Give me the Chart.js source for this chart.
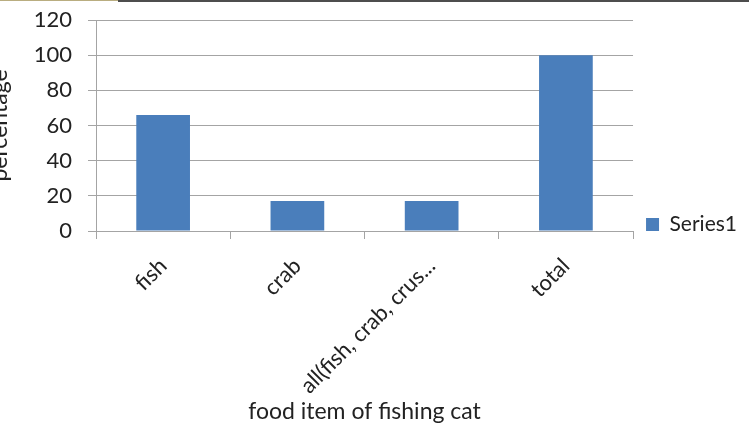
<!DOCTYPE html>
<html>
<head>
<meta charset="utf-8">
<title>food item of fishing cat</title>
<script src="https://cdn.jsdelivr.net/npm/chart.js"></script>
<style>
    html, body { margin: 0; padding: 0; background: #fff; overflow: hidden; }
    #frame { position: relative; width: 749px; height: 429px; overflow: hidden; }
    /* canvas is a bit wider than the frame so the y title runs off the left edge */
    #chart-container { position: absolute; left: -14px; top: 0; width: 763px; height: 429px; }
    .edge-a { position: absolute; left: 0; top: 0; width: 118px; height: 1px; background: #b9ad80; z-index: 2; }
    .edge-b { position: absolute; left: 118px; right: 0; top: 0; height: 2px; background: #4d4d4d; z-index: 2; }
</style>
</head>
<body>
<div id="frame">
    <div class="edge-a"></div>
    <div class="edge-b"></div>
    <div id="chart-container">
        <canvas id="foodChart"></canvas>
    </div>
</div>

<script>
    const categories = ['fish', 'crab', 'all(fish, crab, crus...', 'total'];
    const series1 = [66, 17, 17, 100];
    const yMin = 0;
    const yMax = 120;
    const yStep = 20;

    const gridColor = '#a4a4a4';
    const textColor = '#222222';
    const fontFamily = 'Lato, "Open Sans", sans-serif';

    const ctx = document.getElementById('foodChart').getContext('2d');

    new Chart(ctx, {
        type: 'bar',
        data: {
            labels: categories,
            datasets: [{
                label: 'Series1',
                data: series1,
                backgroundColor: '#4a7ebb',
                borderWidth: 0,
                barPercentage: 0.4,
                categoryPercentage: 1
            }]
        },
        options: {
            responsive: true,
            maintainAspectRatio: false,
            animation: false,
            layout: {
                padding: { top: 20, right: 2, bottom: 0, left: 0 }
            },
            plugins: {
                tooltip: { enabled: false },
                legend: {
                    position: 'right',
                    align: 'center',
                    labels: {
                        boxWidth: 13,
                        boxHeight: 13,
                        padding: 13,
                        color: textColor,
                        font: { family: fontFamily, size: 21 }
                    }
                }
            },
            scales: {
                x: {
                    offset: true,
                    grid: {
                        display: true,
                        drawOnChartArea: false,
                        offset: true,
                        tickLength: 8,
                        color: gridColor
                    },
                    border: { color: gridColor },
                    ticks: {
                        autoSkip: false,
                        minRotation: 45,
                        maxRotation: 45,
                        padding: 14,
                        labelOffset: 0,
                        color: textColor,
                        font: { family: fontFamily, size: 22 }
                    },
                    title: {
                        display: true,
                        text: 'food item of fishing cat',
                        color: textColor,
                        font: { family: fontFamily, size: 23 },
                        padding: { top: 0, bottom: 4 }
                    },
                    afterFit: function (scale) {
                        scale.height = 198;
                        scale.paddingLeft = 0;
                        scale.paddingRight = 0;
                    }
                },
                y: {
                    min: yMin,
                    max: yMax,
                    grid: { color: gridColor, tickLength: 8 },
                    border: { color: gridColor },
                    ticks: {
                        stepSize: yStep,
                        padding: 16,
                        color: textColor,
                        font: { family: fontFamily, size: 22 }
                    },
                    title: {
                        display: true,
                        text: 'percentage',
                        color: textColor,
                        font: { family: fontFamily, size: 23 },
                        padding: 0
                    },
                    afterFit: function (scale) {
                        // keep the tick padding from pushing the plot down
                        scale.width = 110;
                        scale.paddingTop = 0;
                        scale.paddingBottom = 0;
                    }
                }
            }
        }
    });
</script>
</body>
</html>
